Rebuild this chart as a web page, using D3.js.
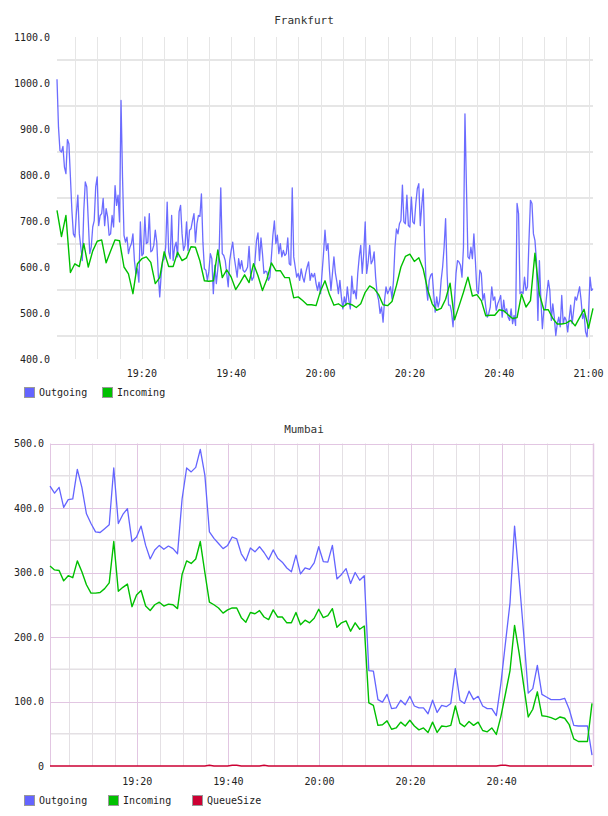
<!DOCTYPE html>
<html>
<head>
<meta charset="utf-8">
<script src="https://cdn.jsdelivr.net/npm/d3@7"></script>
<style>
  body { margin: 0; background: #fff; }
  svg { display: block; font-family: "DejaVu Sans Mono", monospace; }
</style>
</head>
<body>
<script>
// Frankfurt: outgoing sampled every 20s, incoming every minute
var frankfurtOut = [
  1008, 904, 853, 850, 862, 817, 803, 877, 868, 796,
  723, 672, 665, 716, 756, 672, 643, 614, 723, 785,
  774, 701, 629, 643, 687, 701, 774, 796, 690, 712,
  716, 749, 690, 727, 709, 669, 672, 712, 687, 777,
  734, 756, 698, 962, 796, 669, 654, 665, 629, 643,
  651, 672, 614, 585, 596, 567, 698, 625, 629, 709,
  651, 654, 716, 633, 636, 647, 680, 654, 585, 535,
  585, 614, 618, 643, 741, 633, 618, 712, 614, 643,
  654, 622, 720, 734, 672, 636, 647, 698, 636, 680,
  683,
  701, 716, 654, 694, 712, 710, 759, 654, 596, 593,
  571, 591, 629, 618, 542, 604, 564, 596, 643, 772,
  629, 625, 614, 586, 557, 614, 636, 654, 622, 600,
  578, 618, 596, 614, 593, 589, 593, 600, 645, 586,
  571, 578, 614, 658, 674, 614, 663, 629, 586, 591,
  589, 571, 578, 622, 669, 700, 651, 669, 629, 651,
  622, 636, 625, 629, 663, 607, 604, 772, 622, 600,
  578, 586, 571, 596, 578, 567, 586, 600, 611, 571,
  586, 578, 586, 564, 549, 567, 542, 586, 629, 680,
  636, 651, 593, 549, 586, 622, 586, 567, 542, 571,
  535, 509, 535, 517, 557, 528, 509, 580, 542, 549,
  531, 586, 622, 647, 586, 629, 698, 586, 611, 647,
  607, 614, 633, 578, 542, 528, 499, 513, 480, 528,
  557, 542, 549, 557, 531, 571, 643, 683, 672, 694,
  701, 778, 698, 694, 756, 690, 687, 752, 698, 694,
  738, 770, 781, 690, 734, 770, 643, 557, 528, 571,
  582, 586, 542, 502, 535, 513, 528, 571, 600, 643,
  705, 586, 517, 517, 502, 470, 528, 586,
  614, 611, 604, 578, 643, 933, 774, 622, 618, 643,
  618, 672, 614, 549, 542, 593, 586, 528, 542, 513,
  491, 499, 513, 557, 528, 535, 506, 520, 528, 538,
  491, 528, 502, 509, 491, 484, 509, 477, 495, 473,
  738, 716, 542, 546, 542, 578, 549, 557, 658, 745,
  738, 672, 658, 614, 484, 614, 528, 466, 506, 509,
  542, 571, 549, 484, 520, 491, 451, 477, 491, 470,
  538, 477, 491, 484, 459, 488, 517, 477, 506, 535,
  528, 542, 557, 528, 488, 499, 459, 448, 499, 578,
  549, 553
];
var frankfurtIn = [
  723, 666, 712, 588, 607, 601, 651, 600, 635, 656,
  659, 609, 635, 659, 657, 600, 585, 542, 607, 618,
  622, 610, 564, 577, 633, 601, 601, 632, 614, 620,
  644, 643, 613, 570, 569, 570, 637, 577, 594, 578,
  551, 566, 583, 566, 607, 581, 549, 574, 609, 592,
  592, 577, 577, 533, 535, 527, 518, 518, 516, 548,
  570, 540, 517, 520, 513, 521, 518, 512, 520, 545,
  559, 553, 540, 518, 516, 525, 560, 600, 623, 628,
  612, 620, 595, 550, 520, 506, 510, 530, 565, 485,
  515, 545, 578, 537, 540, 527, 494, 495, 495, 507,
  505, 496, 488, 490, 541, 513, 527, 630, 541, 507,
  507, 488, 476, 476, 478, 484, 472, 490, 508, 467,
  510
];

// Mumbai: one sample a minute
var mumbaiOut = [
  434, 423, 432, 401, 413, 414, 460, 432, 391, 376,
  363, 362, 368, 374, 462, 376, 390, 399, 348, 355,
  372, 342, 321, 335, 342, 336, 341, 337, 329, 414,
  462, 456, 463, 491, 451, 363, 353, 345, 337, 342,
  355, 352, 329, 318, 338, 332, 340, 331, 320, 335,
  322, 316, 307, 301, 327, 298, 307, 305, 315, 340,
  317, 316, 342, 290, 297, 306, 283, 300, 288, 295,
  148, 147, 103, 99, 111, 89, 90, 102, 95, 108,
  93, 90, 90, 81, 102, 83, 94, 92, 97, 151,
  102, 97, 116, 103, 108, 93, 89, 89, 78, 128,
  191, 253, 372, 290, 205, 113, 120, 156, 111, 107,
  103, 103, 103, 105, 88, 63, 62, 62, 62, 17
];
var mumbaiIn = [
  310, 304, 303, 287, 295, 292, 318, 301, 281, 268,
  268, 269, 275, 284, 348, 271, 277, 282, 247, 265,
  272, 248, 241, 250, 254, 248, 251, 250, 244, 297,
  318, 314, 321, 348, 300, 254, 250, 245, 237, 242,
  245, 245, 230, 223, 238, 236, 241, 231, 227, 242,
  231, 231, 222, 222, 238, 219, 226, 222, 229, 243,
  230, 233, 244, 215, 222, 225, 209, 222, 212, 217,
  98, 94, 63, 64, 70, 57, 59, 68, 62, 71,
  62, 56, 59, 52, 68, 52, 62, 61, 63, 93,
  66, 61, 69, 63, 68, 55, 53, 59, 49, 77,
  112, 148, 218, 175, 125, 76, 88, 115, 78, 77,
  75, 72, 76, 74, 64, 42, 38, 38, 38, 97
];
var mumbaiQueue = [
  0, 0, 0, 0, 0, 0, 0, 0, 0, 0,
  0, 0, 0, 0, 0, 0, 0, 0, 0, 0,
  0, 0, 0, 0, 0, 0, 0, 0, 0, 0,
  0, 0, 0, 0, 0, 1, 0, 0, 0, 0,
  1, 1, 0, 0, 0, 0, 0, 1, 0, 0,
  0, 0, 0, 0, 0, 0, 0, 0, 0, 0,
  0, 0, 0, 0, 0, 0, 0, 0, 0, 0,
  0, 0, 0, 0, 0, 0, 0, 0, 0, 0,
  0, 0, 0, 0, 0, 0, 0, 0, 0, 0,
  0, 0, 0, 0, 0, 0, 0, 0, 0, 1,
  1, 0, 0, 0, 0, 0, 0, 0, 0, 0,
  0, 0, 0, 0, 0, 0, 0, 0, 0, 0
];

var frankfurtTicks = [400, 500, 600, 700, 800, 900, 1000, 1100];
var mumbaiTicks = [0, 100, 200, 300, 400, 500];
var seriesNames = ["Outgoing", "Incoming", "QueueSize"];
var seriesColors = ["#6464ff", "#00c000", "#cc0033"];

var frankfurtStart = new Date(2013, 4, 6, 19, 1, 0);
var mumbaiStart = new Date(2013, 4, 6, 19, 0, 50);

var svg = d3
  .select("body")
  .append("svg")
  .attr("width", 608)
  .attr("height", 816);

function toSeries(values, start, stepSec) {
  return values.map(function (v, i) {
    return { t: new Date(start.getTime() + i * stepSec * 1000), v: v };
  });
}

function drawChart(cfg) {
  var g = svg.append("g");
  var all = [].concat.apply([], cfg.series.map((s) => s.data));

  var x = d3
    .scaleTime()
    .domain(d3.extent(all, (d) => d.t))
    .range([cfg.left, cfg.right]);
  var y = d3
    .scaleLinear()
    .domain(d3.extent(cfg.ticks))
    .range([cfg.bottom, cfg.top]);

  // grid: minor first, then major
  var minorY = y.ticks(cfg.ticks.length * 2 - 2).filter((v) => cfg.ticks.indexOf(v) < 0);
  g.selectAll(".hminor")
    .data(minorY)
    .enter()
    .append("line")
    .attr("x1", cfg.left)
    .attr("x2", cfg.gridRight)
    .attr("y1", (d) => y(d))
    .attr("y2", (d) => y(d))
    .attr("stroke", cfg.minorColor)
    .attr("stroke-width", cfg.hWidth);

  var fiveMin = x.ticks(d3.timeMinute.every(5));
  g.selectAll(".vminor")
    .data(fiveMin)
    .enter()
    .append("line")
    .attr("x1", (d) => Math.round(x(d)) + 0.5)
    .attr("x2", (d) => Math.round(x(d)) + 0.5)
    .attr("y1", cfg.top)
    .attr("y2", cfg.bottom)
    .attr("stroke", (d) => (d.getMinutes() % 20 === 0 && cfg.majorColor ? cfg.majorColor : cfg.minorColor))
    .attr("stroke-width", 1);

  if (cfg.majorColor) {
    g.selectAll(".hmajor")
      .data(cfg.ticks.slice(1))
      .enter()
      .append("line")
      .attr("x1", cfg.left)
      .attr("x2", cfg.gridRight)
      .attr("y1", (d) => Math.round(y(d)) + 0.5)
      .attr("y2", (d) => Math.round(y(d)) + 0.5)
      .attr("stroke", cfg.majorColor)
      .attr("stroke-width", 1);
    g.append("line")
      .attr("x1", cfg.left + 0.5)
      .attr("x2", cfg.left + 0.5)
      .attr("y1", cfg.top)
      .attr("y2", cfg.bottom)
      .attr("stroke", cfg.majorColor);
    g.append("line")
      .attr("x1", cfg.gridRight + 0.5)
      .attr("x2", cfg.gridRight + 0.5)
      .attr("y1", cfg.top)
      .attr("y2", cfg.bottom)
      .attr("stroke", cfg.majorColor)
      .attr("stroke-width", 1.5);
  }

  var line = d3
    .line()
    .x((d) => x(d.t))
    .y((d) => y(d.v));

  cfg.series.forEach(function (s, i) {
    g.append("path")
      .datum(s.data)
      .attr("fill", "none")
      .attr("stroke", seriesColors[i])
      .attr("stroke-width", s.width)
      .attr("stroke-opacity", s.opacity || 1)
      .attr("stroke-linejoin", "round")
      .attr("d", line);
  });

  // y labels
  g.selectAll(".ylab")
    .data(cfg.ticks)
    .enter()
    .append("text")
    .attr("x", cfg.left - cfg.labelGap)
    .attr("y", (d) => y(d) + 3.5)
    .attr("text-anchor", "end")
    .attr("font-size", 10)
    .attr("fill", "#222")
    .text((d) => (d === 0 ? "0" : d3.format(".1f")(d)));

  // x labels
  var timeFmt = d3.timeFormat("%H:%M");
  g.selectAll(".xlab")
    .data(x.ticks(d3.timeMinute.every(20)))
    .enter()
    .append("text")
    .attr("x", (d) => x(d))
    .attr("y", cfg.bottom + cfg.xLabelDy)
    .attr("text-anchor", "middle")
    .attr("font-size", 10)
    .attr("fill", "#222")
    .text(timeFmt);

  g.append("text")
    .attr("x", 304)
    .attr("y", cfg.titleY)
    .attr("text-anchor", "middle")
    .attr("font-size", 11)
    .attr("fill", "#333")
    .text(cfg.title);

  // legend
  var items = g
    .selectAll(".legend")
    .data(cfg.series)
    .enter()
    .append("g")
    .attr("transform", (d, i) => "translate(" + cfg.legendX[i] + "," + cfg.legendY + ")");
  items
    .append("rect")
    .attr("x", 0.5)
    .attr("y", 0.5)
    .attr("width", 10)
    .attr("height", 10)
    .attr("fill", (d, i) => seriesColors[i])
    .attr("stroke", "#999");
  items
    .append("text")
    .attr("x", cfg.legendTextDx)
    .attr("y", 9)
    .attr("font-size", 10)
    .attr("fill", "#222")
    .text((d, i) => seriesNames[i]);
}

drawChart({
  title: "Frankfurt",
  titleY: 24,
  left: 57,
  right: 593,
  gridRight: 593,
  top: 37,
  bottom: 359,
  ticks: frankfurtTicks,
  labelGap: 7,
  xLabelDy: 18,
  hWidth: 2,
  minorColor: "#e6e6e6",
  majorColor: null,
  legendX: [24, 102],
  legendY: 387,
  legendTextDx: 15,
  series: [
    { data: toSeries(frankfurtOut, frankfurtStart, 20), width: 1.3, opacity: 0.95 },
    { data: toSeries(frankfurtIn, frankfurtStart, 60), width: 1.4 },
  ],
});

drawChart({
  title: "Mumbai",
  titleY: 433,
  left: 50,
  right: 592,
  gridRight: 593,
  top: 443.5,
  bottom: 766,
  ticks: mumbaiTicks,
  labelGap: 6,
  xLabelDy: 19,
  hWidth: 1.5,
  minorColor: "#e4e0e4",
  majorColor: "#e2c6e2",
  legendX: [24, 108, 192],
  legendY: 795,
  legendTextDx: 15,
  series: [
    { data: toSeries(mumbaiOut, mumbaiStart, 60), width: 1.3 },
    { data: toSeries(mumbaiIn, mumbaiStart, 60), width: 1.4 },
    { data: toSeries(mumbaiQueue, mumbaiStart, 60), width: 1.5 },
  ],
});
</script>
</body>
</html>
